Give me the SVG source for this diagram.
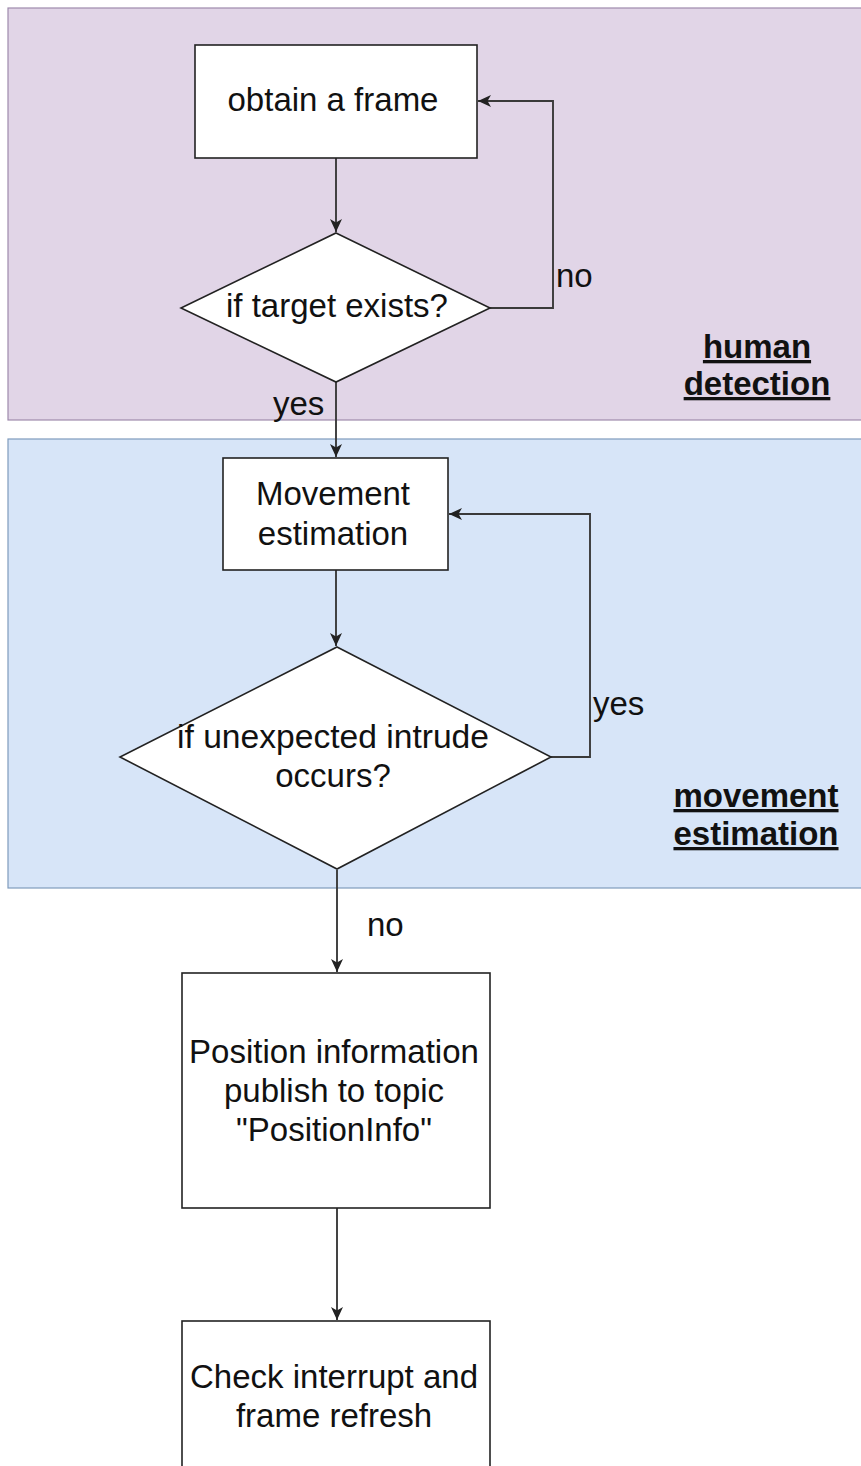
<svg xmlns="http://www.w3.org/2000/svg" width="861" height="1466" viewBox="0 0 861 1466">
<defs>
<marker id="arr" markerUnits="userSpaceOnUse" markerWidth="14" markerHeight="12" refX="13" refY="6" orient="auto">
<path d="M0,0 L13,6 L0,12 L3.5,6 z" fill="#222"/>
</marker>
<style>
.t{font-family:"Liberation Sans",Arial,sans-serif;font-size:33px;fill:#111;}
.c{text-anchor:middle;}
.lb{font-family:"Liberation Sans",Arial,sans-serif;font-size:33px;font-weight:bold;fill:#111;text-anchor:middle;text-decoration:underline;}
.n{fill:#fff;stroke:#222;stroke-width:1.6;}
.e{fill:none;stroke:#3a3a3a;stroke-width:1.9;}
</style>
</defs>
<rect width="861" height="1466" fill="#fff"/>
<g id="lane-human">
<rect x="8" y="8" width="860" height="412" fill="#e1d5e7" stroke="#9e8aac" stroke-width="1.2"/>
<text class="lb" x="757" y="358">human</text>
<text class="lb" x="757" y="395">detection</text>
</g>
<g id="lane-movement">
<rect x="8" y="439" width="860" height="449" fill="#d7e5f8" stroke="#7f9bbd" stroke-width="1.2"/>
<text class="lb" x="756" y="807">movement</text>
<text class="lb" x="756" y="845">estimation</text>
</g>
<g id="connectors">
<path class="e" d="M336,158 V232" marker-end="url(#arr)"/>
<path class="e" d="M490,308 H553 V101 H478" marker-end="url(#arr)"/>
<path class="e" d="M336,382 V457" marker-end="url(#arr)"/>
<path class="e" d="M336,570 V646" marker-end="url(#arr)"/>
<path class="e" d="M551,757 H590 V514 H449" marker-end="url(#arr)"/>
<path class="e" d="M337,870 V972" marker-end="url(#arr)"/>
<path class="e" d="M337,1208 V1320" marker-end="url(#arr)"/>
<text class="t" x="556" y="287">no</text>
<text class="t" x="273" y="415">yes</text>
<text class="t" x="593" y="715">yes</text>
<text class="t" x="367" y="936">no</text>
</g>
<g id="obtain-frame">
<rect class="n" x="195" y="45" width="282" height="113"/>
<text class="t c" x="333" y="111">obtain a frame</text>
</g>
<g id="target-exists">
<polygon class="n" points="336,233 490,308 336,382 181,308"/>
<text class="t c" x="337" y="317">if target exists?</text>
</g>
<g id="movement-estimation">
<rect class="n" x="223" y="458" width="225" height="112"/>
<text class="t c" x="333" y="505">Movement</text>
<text class="t c" x="333" y="545">estimation</text>
</g>
<g id="intrude">
<polygon class="n" points="337,647 551,757 337,869 120,757"/>
<text class="t c" x="333" y="748" textLength="312" lengthAdjust="spacingAndGlyphs">if unexpected intrude</text>
<text class="t c" x="333" y="787">occurs?</text>
</g>
<g id="position-info">
<rect class="n" x="182" y="973" width="308" height="235"/>
<text class="t c" x="334" y="1063">Position information</text>
<text class="t c" x="334" y="1102">publish to topic</text>
<text class="t c" x="334" y="1141">"PositionInfo"</text>
</g>
<g id="check-interrupt">
<rect class="n" x="182" y="1321" width="308" height="160"/>
<text class="t c" x="334" y="1388">Check interrupt and</text>
<text class="t c" x="334" y="1427">frame refresh</text>
</g>
</svg>
